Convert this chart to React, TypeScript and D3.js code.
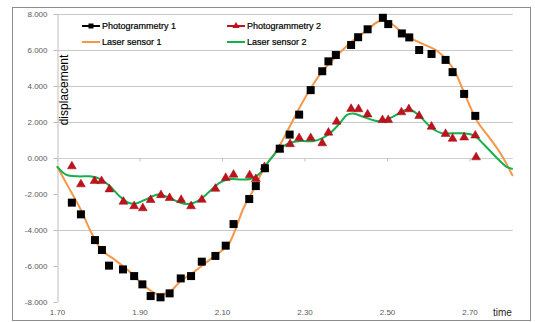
import React, { useRef, useEffect } from "react";
import * as d3 from "d3";

// Photogrammetry 1 (black squares)
const photo1Time = [
  1.736, 1.758, 1.792, 1.809, 1.826, 1.86, 1.887, 1.907, 1.927, 1.951, 1.973, 2.0, 2.025, 2.051,
  2.084, 2.109, 2.128, 2.166, 2.182, 2.204, 2.24, 2.264, 2.287, 2.315, 2.343, 2.358, 2.376, 2.413,
  2.43, 2.453, 2.49, 2.503, 2.536, 2.554, 2.578, 2.608, 2.642, 2.659, 2.687, 2.714,
];
const photo1Value = [
  -2.48, -3.13, -4.56, -5.11, -5.98, -6.19, -6.56, -7.02, -7.67, -7.74, -7.52, -6.69, -6.56, -5.76,
  -5.44, -4.87, -3.67, -2.28, -1.56, -0.57, 0.52, 1.3, 2.41, 3.77, 4.82, 5.37, 5.72, 6.28,
  6.71, 7.15, 7.79, 7.44, 6.92, 6.7, 6.0, 5.78, 5.45, 4.77, 3.56, 2.34,
];

// Photogrammetry 2 (red triangles)
const photo2Time = [
  1.736, 1.758, 1.791, 1.808, 1.827, 1.861, 1.887, 1.908, 1.927, 1.952, 1.973, 2.001, 2.025, 2.051,
  2.084, 2.109, 2.128, 2.167, 2.182, 2.203, 2.239, 2.265, 2.287, 2.315, 2.343, 2.358, 2.378, 2.413,
  2.431, 2.453, 2.489, 2.503, 2.535, 2.553, 2.578, 2.608, 2.642, 2.659, 2.687, 2.714, 2.716,
];
const photo2Value = [
  -0.46, -1.46, -1.28, -1.28, -1.74, -2.43, -2.68, -2.79, -2.33, -2.06, -2.22, -2.33, -2.68, -2.32,
  -1.71, -1.11, -0.93, -0.96, -1.17, -0.5, 0.47, 0.77, 1.11, 1.11, 0.82, 1.41, 2.02, 2.73,
  2.71, 2.42, 2.11, 2.11, 2.54, 2.71, 2.34, 1.74, 1.34, 1.07, 1.14, 1.25, 0.04,
];

// Laser sensor 1 (orange line)
const laser1Time = [
  1.7, 1.727, 1.758, 1.784, 1.808, 1.841, 1.881, 1.909, 1.938, 1.954, 1.974, 1.998, 2.027, 2.059,
  2.091, 2.115, 2.132, 2.152, 2.176, 2.204, 2.232, 2.261, 2.285, 2.317, 2.346, 2.378, 2.414, 2.447,
  2.478, 2.493, 2.51, 2.534, 2.562, 2.592, 2.62, 2.649, 2.665, 2.682, 2.718, 2.747, 2.776, 2.805,
];
const laser1Value = [
  -0.46, -1.59, -2.89, -4.18, -5.11, -5.67, -6.41, -7.06, -7.52, -7.56, -7.43, -6.87, -6.41, -5.85,
  -5.29, -4.83, -4.0, -2.79, -1.78, -0.48, 0.39, 1.61, 2.67, 3.94, 4.89, 5.67, 6.46, 7.02,
  7.57, 7.63, 7.48, 7.02, 6.61, 6.28, 5.97, 5.33, 4.79, 3.9, 2.07, 1.17, 0.22, -1.0,
];

// Laser sensor 2 (green line)
const laser2Time = [
  1.7, 1.722, 1.751, 1.78, 1.804, 1.828, 1.853, 1.872, 1.889, 1.913, 1.945, 1.969, 1.993, 2.018,
  2.041, 2.067, 2.092, 2.115, 2.134, 2.168, 2.192, 2.216, 2.241, 2.265, 2.289, 2.323, 2.342, 2.364,
  2.386, 2.403, 2.418, 2.442, 2.469, 2.49, 2.517, 2.545, 2.563, 2.585, 2.609, 2.633, 2.658, 2.687,
  2.711, 2.735, 2.764, 2.79, 2.805,
];
const laser2Value = [
  -0.46, -0.92, -1.02, -1.02, -1.16, -1.56, -2.15, -2.47, -2.54, -2.33, -2.03, -2.17, -2.43, -2.56,
  -2.39, -1.92, -1.41, -1.18, -1.18, -1.17, -0.85, -0.11, 0.54, 0.83, 0.94, 0.94, 1.09, 1.42,
  1.94, 2.39, 2.47, 2.29, 2.08, 2.03, 2.33, 2.67, 2.61, 2.19, 1.65, 1.37, 1.37, 1.37,
  1.25, 0.75, 0.06, -0.49, -0.61,
];

const xTicks = [1.7, 1.9, 2.1, 2.3, 2.5, 2.7];
const yTicks = [8, 6, 4, 2, 0, -2, -4, -6, -8];
// gridlines that show in the picture
const gridValues = [8, 6, 4, 2, -4];

const W = 535;
const H = 322;
const FONT = "'Liberation Sans Narrow', 'Liberation Sans', Arial, sans-serif";

const App = () => {
  const svgRef = useRef<SVGSVGElement>(null);

  useEffect(() => {
    const svg = d3.select(svgRef.current);
    svg.selectAll("*").remove();

    const x = d3.scaleLinear().domain([1.7, 2.8]).range([57, 510.75]);
    const y = d3.scaleLinear().domain([-8, 8]).range([302, 14]);

    // chart frame
    svg
      .append("rect")
      .attr("x", 12.5)
      .attr("y", 7.5)
      .attr("width", 518)
      .attr("height", 313)
      .attr("fill", "white")
      .attr("stroke", "#8c8c8c");

    // gridlines
    svg
      .append("g")
      .selectAll("line")
      .data(gridValues)
      .join("line")
      .attr("x1", x(1.7))
      .attr("x2", x(2.8) + 2)
      .attr("y1", (d) => Math.round(y(d)) + 0.5)
      .attr("y2", (d) => Math.round(y(d)) + 0.5)
      .attr("stroke", "#c9c9c9");

    // y axis
    const yAxis = svg
      .append("g")
      .attr("transform", `translate(${x(1.7) + 0.5},0)`)
      .call(
        d3
          .axisLeft(y)
          .tickValues(yTicks)
          .tickSize(4)
          .tickSizeOuter(0)
          .tickPadding(6)
          .tickFormat((d) => (d as number).toFixed(3))
      );
    yAxis.select(".domain").attr("stroke", "#bfbfbf");
    yAxis.selectAll(".tick line").attr("stroke", "#bfbfbf");
    yAxis
      .selectAll("text")
      .attr("fill", "#595959")
      .style("font-family", FONT)
      .style("font-size", "8px");

    // x axis line at zero, labels at the bottom
    const xAxis = svg
      .append("g")
      .attr("transform", `translate(0,${Math.round(y(0)) + 0.5})`)
      .call(d3.axisBottom(x).tickValues(xTicks).tickSize(3).tickSizeOuter(0).tickFormat(() => ""));
    xAxis.select(".domain").attr("stroke", "#d0d0d0").attr("d", `M${x(1.7)},0H${x(2.8) + 2}`);
    xAxis.selectAll(".tick line").attr("stroke", "#bfbfbf");

    const xLabels = svg
      .append("g")
      .attr("transform", "translate(0,309)")
      .call(d3.axisBottom(x).tickValues(xTicks).tickSize(0).tickPadding(0).tickFormat((d) => (d as number).toFixed(2)));
    xLabels.select(".domain").remove();
    xLabels
      .selectAll("text")
      .attr("fill", "#595959")
      .style("font-family", FONT)
      .style("font-size", "8px");

    const line = d3
      .line<[number, number]>()
      .x((d) => x(d[0]))
      .y((d) => y(d[1]))
      .curve(d3.curveCatmullRom.alpha(0.5));

    // Laser sensor 1
    svg
      .append("path")
      .datum(laser1Time.map((t, i) => [t, laser1Value[i]] as [number, number]))
      .attr("d", line)
      .attr("fill", "none")
      .attr("stroke", "#f79646")
      .attr("stroke-width", 2);

    // Laser sensor 2
    svg
      .append("path")
      .datum(laser2Time.map((t, i) => [t, laser2Value[i]] as [number, number]))
      .attr("d", line)
      .attr("fill", "none")
      .attr("stroke", "#13b04b")
      .attr("stroke-width", 2);

    const square = d3.symbol().type(d3.symbolSquare).size(64);
    const triangle = d3.symbol().type(d3.symbolTriangle).size(34);

    // Photogrammetry 2
    svg
      .append("g")
      .selectAll("path")
      .data(photo2Time.map((t, i) => [t, photo2Value[i]]))
      .join("path")
      .attr("transform", (d) => `translate(${x(d[0])},${y(d[1])})`)
      .attr("d", triangle)
      .attr("fill", "#c0121c")
      .attr("stroke", "#9a0d14")
      .attr("stroke-width", 0.5);

    // Photogrammetry 1
    svg
      .append("g")
      .selectAll("path")
      .data(photo1Time.map((t, i) => [t, photo1Value[i]]))
      .join("path")
      .attr("transform", (d) => `translate(${x(d[0])},${y(d[1])})`)
      .attr("d", square)
      .attr("fill", "#000");

    // legend
    const legendItems = [
      { name: "Photogrammetry 1", color: "#000", marker: "square", lx: 82, ly: 26 },
      { name: "Photogrammetry 2", color: "#c0121c", marker: "triangle", lx: 227, ly: 26 },
      { name: "Laser sensor 1", color: "#f79646", marker: "", lx: 82, ly: 42 },
      { name: "Laser sensor 2", color: "#13b04b", marker: "", lx: 227, ly: 42 },
    ];
    const legend = svg.append("g");
    const item = legend
      .selectAll("g")
      .data(legendItems)
      .join("g")
      .attr("transform", (d) => `translate(${d.lx},${d.ly})`);
    item
      .append("line")
      .attr("x1", 0)
      .attr("x2", 18)
      .attr("stroke", (d) => d.color)
      .attr("stroke-width", 2);
    item
      .filter((d) => d.marker === "square")
      .append("path")
      .attr("transform", "translate(9,0)")
      .attr("d", d3.symbol().type(d3.symbolSquare).size(25))
      .attr("fill", "#000");
    item
      .filter((d) => d.marker === "triangle")
      .append("path")
      .attr("transform", "translate(9,0)")
      .attr("d", d3.symbol().type(d3.symbolTriangle).size(22))
      .attr("fill", "#c0121c");
    item
      .append("text")
      .attr("x", 20)
      .attr("dy", "0.35em")
      .attr("fill", "#000")
      .attr("stroke", "#000")
      .attr("stroke-width", 0.2)
      .style("font-family", FONT)
      .style("font-size", "9px")
      .text((d) => d.name);

    // axis titles
    svg
      .append("text")
      .attr("transform", "translate(68,90) rotate(-90)")
      .attr("text-anchor", "middle")
      .attr("fill", "#000")
      .style("font-family", FONT)
      .style("font-size", "12px")
      .text("displacement");

    svg
      .append("text")
      .attr("x", 493)
      .attr("y", 316)
      .attr("fill", "#262626")
      .style("font-family", FONT)
      .style("font-size", "10px")
      .text("time");
  }, []);

  return (
    <svg
      ref={svgRef}
      width={W}
      height={H}
      style={{ position: "absolute", left: 0, top: 0, background: "white" }}
    ></svg>
  );
};

export default App;
